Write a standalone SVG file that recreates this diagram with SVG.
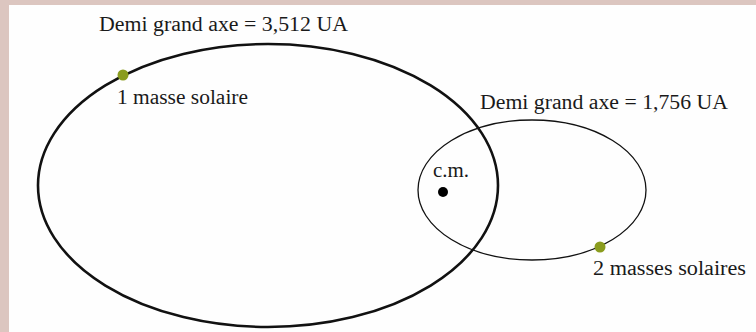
<svg xmlns="http://www.w3.org/2000/svg" width="756" height="332" viewBox="0 0 756 332">
<style>
.t{font-family:"Liberation Serif","Times New Roman",serif;font-size:20px;fill:#1a1a1a}
.orb{fill:none;stroke:#111}
.star{fill:#8a9c1e}
</style>
<rect x="0" y="0" width="756" height="332" fill="#dcc6c0"/>
<rect x="9" y="5" width="747" height="327" fill="#fefefe"/>
<g id="orbits">
<ellipse id="orbit-big" class="orb" cx="268" cy="185.5" rx="230" ry="141.5" stroke-width="2.6"/>
<ellipse id="orbit-small" class="orb" cx="532" cy="190" rx="114" ry="70" stroke-width="1.3"/>
</g>
<g id="star1">
<circle class="star" cx="123" cy="75" r="5.5"/>
<text class="t" x="117" y="104" textLength="131" lengthAdjust="spacingAndGlyphs">1 masse solaire</text>
</g>
<g id="star2">
<circle class="star" cx="600" cy="247" r="5.5"/>
<text class="t" x="593" y="275" textLength="153" lengthAdjust="spacingAndGlyphs">2 masses solaires</text>
</g>
<g id="cm">
<circle cx="443" cy="192" r="5" fill="#000"/>
<text class="t" x="433" y="177" font-size="17" textLength="36" lengthAdjust="spacingAndGlyphs">c.m.</text>
</g>
<g id="label-big">
<text class="t" x="99" y="31" textLength="249" lengthAdjust="spacingAndGlyphs">Demi grand axe = 3,512 UA</text>
</g>
<g id="label-small">
<text class="t" x="480" y="109" textLength="248" lengthAdjust="spacingAndGlyphs">Demi grand axe = 1,756 UA</text>
</g>
</svg>
